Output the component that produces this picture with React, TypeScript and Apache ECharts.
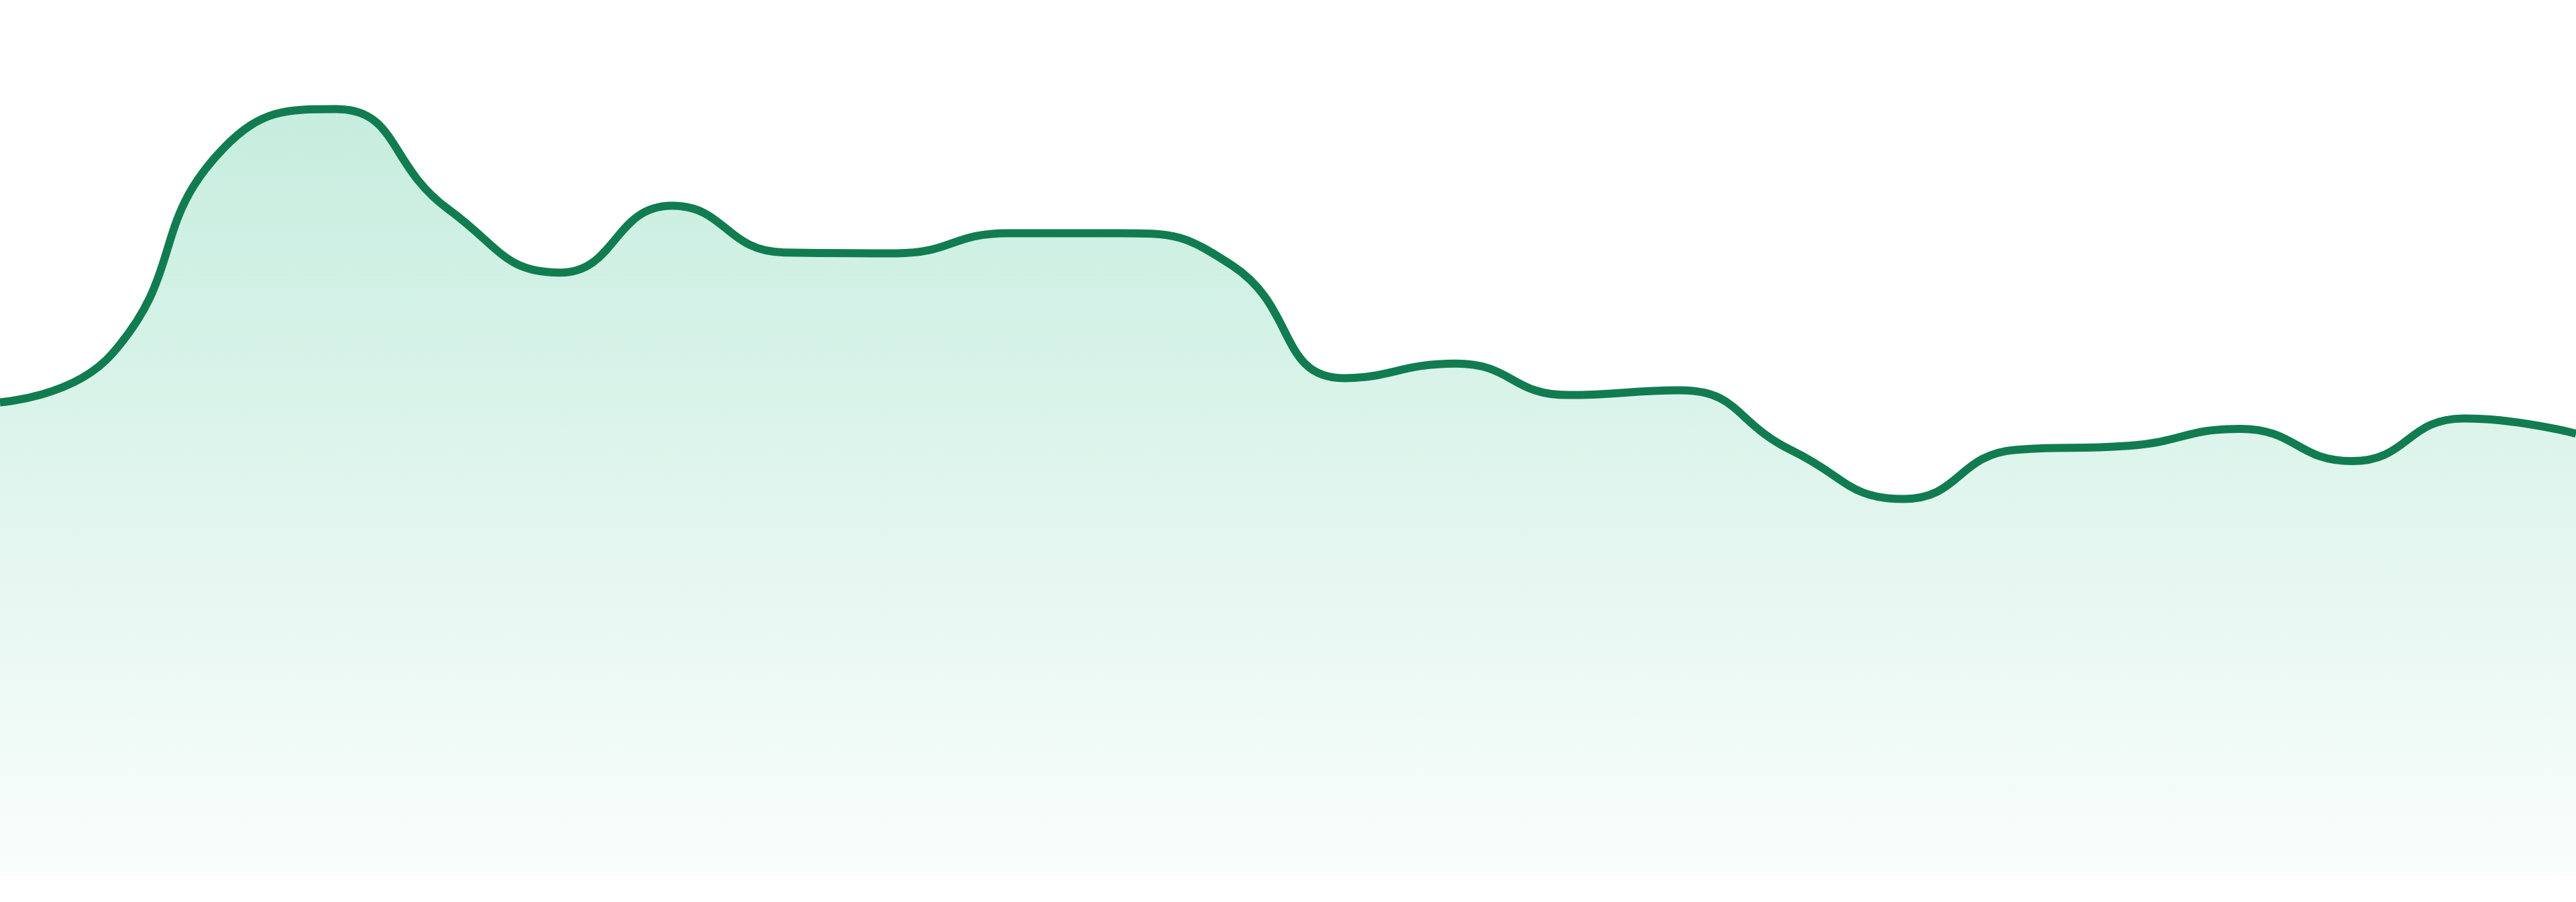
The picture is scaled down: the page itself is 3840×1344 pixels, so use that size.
import * as echarts from 'echarts';
import { useEffect, useRef } from 'react';

const categories = [
    'P01', 'P02', 'P03', 'P04', 'P05', 'P06', 'P07', 'P08',
    'P09', 'P10', 'P11', 'P12', 'P13', 'P14', 'P15', 'P16',
    'P17', 'P18', 'P19', 'P20', 'P21', 'P22', 'P23', 'P24',
];

const values = [
    58.8, 64.8, 90.4, 95.2, 82.8, 74.9, 83.2, 77.4,
    77.3, 79.8, 79.8, 75.8, 61.8, 63.6, 59.7, 60.3,
    52.8, 46.8, 52.9, 53.4, 55.5, 51.5, 56.8, 54.9,
];

const yMin = 0;
const yMax = 100;

const AreaTrendChart = () => {
    const chartRef = useRef<HTMLDivElement>(null);

    useEffect(() => {
        if (!chartRef.current) return;
        const chart = echarts.init(chartRef.current, null, { renderer: 'svg' });

        chart.setOption({
            animation: false,
            grid: { left: 0, right: 0, top: 105, bottom: 39 },
            xAxis: {
                type: 'category',
                data: categories,
                boundaryGap: false,
                show: false,
            },
            yAxis: {
                type: 'value',
                min: yMin,
                max: yMax,
                show: false,
                splitLine: { show: false },
            },
            series: [
                {
                    type: 'line',
                    data: values,
                    smooth: true,
                    showSymbol: false,
                    lineStyle: { color: '#127c51', width: 12 },
                    areaStyle: {
                        color: new echarts.graphic.LinearGradient(0, 0, 0, 1, [
                            { offset: 0, color: 'rgba(16,180,120,0.34)' },
                            { offset: 1, color: 'rgba(16,180,120,0.03)' },
                        ]),
                    },
                },
            ],
        });

        const onResize = () => chart.resize();
        window.addEventListener('resize', onResize);
        return () => {
            window.removeEventListener('resize', onResize);
            chart.dispose();
        };
    }, []);

    return (
        <div
            ref={chartRef}
            style={{ position: 'absolute', left: 0, top: 0, width: 3840, height: 1344 }}
        />
    );
};

export default function App() {
    return <AreaTrendChart />;
}
